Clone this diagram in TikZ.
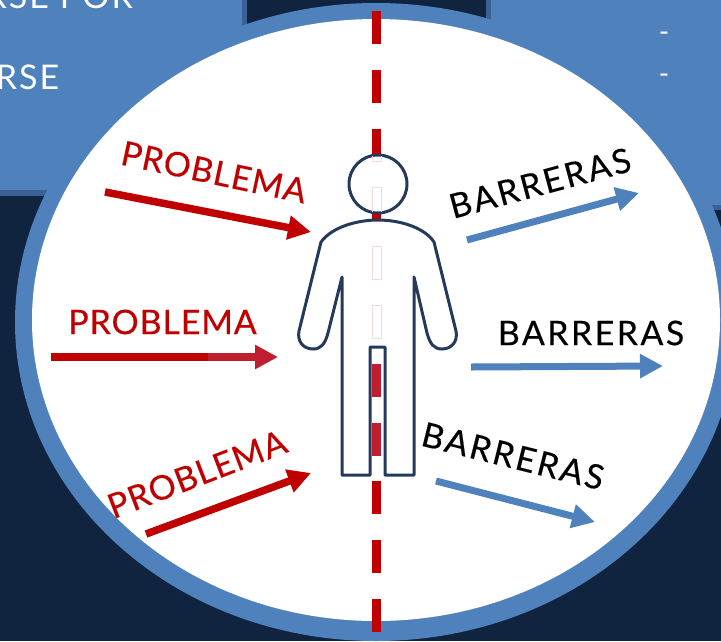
\documentclass[tikz,border=0pt]{standalone}
\usepackage{fontspec}
\setmainfont{Lato}
\usetikzlibrary{arrows.meta}
\definecolor{navy}{HTML}{10243F}
\definecolor{midblue}{HTML}{4F81BD}
\definecolor{edgeblue}{HTML}{3A6196}
\definecolor{probred}{HTML}{C00000}
\definecolor{lightred}{HTML}{BE1E2D}
\definecolor{figline}{HTML}{253A5A}
\definecolor{palepink}{HTML}{F6D9D9}
\newfontfamily\probfont[LetterSpace=2.5,FakeBold=0.3]{Lato}
\newfontfamily\barrfont[LetterSpace=7,FakeBold=0.3]{Lato}
\newfontfamily\cornerfont[LetterSpace=6]{Lato}
\tikzset{
  redlab/.style={font=\probfont\fontsize{34}{34}\selectfont, inner sep=0pt, text=probred},
  blacklab/.style={font=\barrfont\fontsize{34}{34}\selectfont, inner sep=0pt, text=black},
  redarrow/.style={draw=probred, line width=7.5pt, -{Triangle[length=23pt,width=23pt]}},
  bluearrow/.style={draw=midblue, line width=7pt, -{Triangle[length=23pt,width=23pt]}},
  figstroke/.style={draw=figline, line width=3pt, line join=round},
  ghost/.style={draw=palepink, line width=0.8pt},
  corner/.style={font=\cornerfont\fontsize{34}{34}\selectfont, text=white, anchor=base east, inner sep=0pt},
  minus/.style={text=white, font=\fontsize{28}{28}\selectfont, inner sep=0pt}
}
\begin{document}
\begin{tikzpicture}[x=1pt,y=-1pt]
\useasboundingbox (0,0) rectangle (721,641);
\fill[navy] (0,0) rectangle (721,641);
\fill[edgeblue] (-5,-5) rectangle (247,196);
\fill[midblue] (-5,-5) rectangle (242,190);
\fill[edgeblue] (486,-5) rectangle (730,210);
\fill[midblue] (491,-5) rectangle (730,205);
\fill[midblue] (376,322) ellipse [x radius=361, y radius=319];
\fill[white] (376,320) ellipse [x radius=344, y radius=301];
\node[corner] (t1) at (133,8) {RSE POR};
\node[corner] (t2) at (59.5,89) {RSE};
\node[minus] (d1) at (664,37) {-};
\node[minus] (d2) at (664,79) {-};
\draw[probred,line width=8.5pt,dash pattern=on 33pt off 25.8pt] (376.5,11) -- (376.5,632);
\node[redlab,rotate=-12] (p1) at (214,172) {PROBLEMA};
\node[redlab] (p2) at (162.5,322) {PROBLEMA};
\node[redlab,rotate=21] (p3) at (197,474) {PROBLEMA};
\node[blacklab,rotate=15] (b1) at (540,183) {BARRERAS};
\node[blacklab] (b2) at (591,333) {BARRERAS};
\node[blacklab,rotate=-14] (b3) at (513,456) {BARRERAS};
\coordinate (pa1) at (105,192); \coordinate (pb1) at (311,232);
\coordinate (pa2) at (51,357); \coordinate (pb2) at (278,357);
\coordinate (pm2) at (208,357);
\coordinate (pa3) at (146,534); \coordinate (pb3) at (311,473);
\coordinate (ba1) at (467,240); \coordinate (bb1) at (639,193);
\coordinate (ba2) at (471,367); \coordinate (bb2) at (663,366);
\coordinate (ba3) at (436,481); \coordinate (bb3) at (595,522);
\draw[redarrow] (pa1) -- (pb1);
\draw[probred,line width=7.5pt] (pa2) -- (pm2);
\draw[redarrow,draw=lightred,fill=lightred] (pm2) -- (pb2);
\draw[redarrow] (pa3) -- (pb3);
\draw[bluearrow] (ba1) -- (bb1);
\draw[bluearrow] (ba2) -- (bb2);
\draw[bluearrow] (ba3) -- (bb3);
% figure
\draw[figstroke,fill=white] (378,184) circle [radius=29];
\draw[ghost] (372.5,156) -- (372.5,161) -- (381,161) -- (381,156);
\draw[ghost] (372.5,212) -- (372.5,187) -- (381,187) -- (381,212);
\fill[lightred] (372.2,363.5) rectangle (380.8,397);
\fill[lightred] (372.2,422.5) rectangle (380.8,456);
\draw[figstroke,fill=white] (342,277) -- (328,333) .. controls (325,344) and (321,349) .. (313,349) .. controls (303,349) and (297,341) .. (299,331) -- (321,242) .. controls (332,227) and (357,220) .. (378,220) .. controls (399,220) and (424,227) .. (434,242) -- (456,331) .. controls (458,341) and (452,349) .. (442,349) .. controls (434,349) and (430,344) .. (427,333) -- (414,277) -- (414,475) -- (385,475) -- (385,347) -- (370,347) -- (370,475) -- (342,475) -- cycle;
\draw[ghost] (372.5,246) rectangle (381,279);
\draw[ghost] (372.5,305) rectangle (381,338);
\end{tikzpicture}
\end{document}
